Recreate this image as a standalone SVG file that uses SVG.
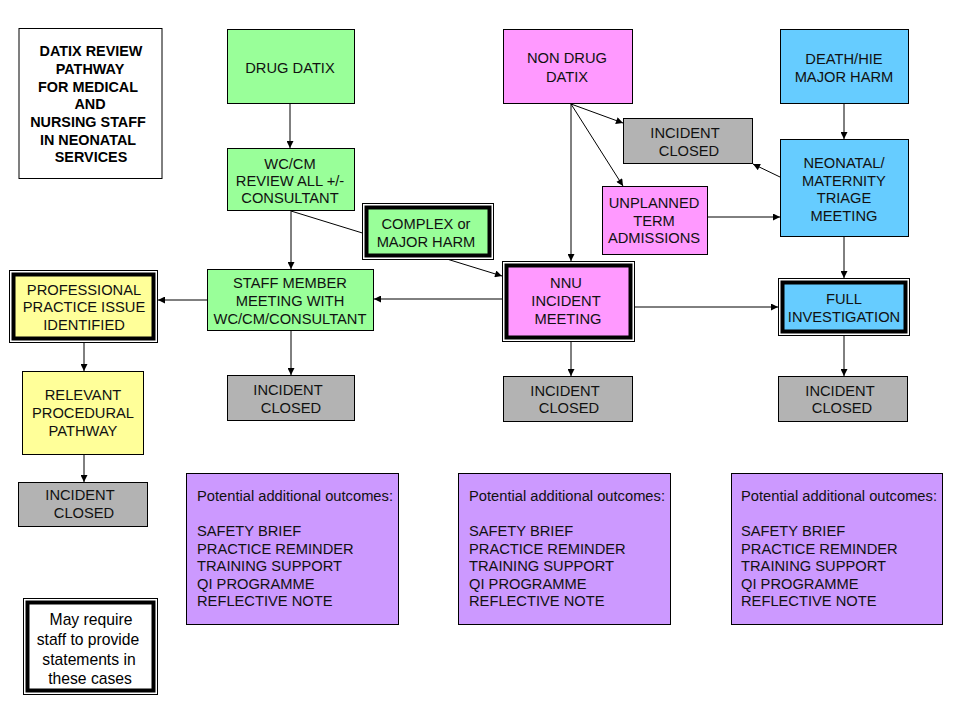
<svg xmlns="http://www.w3.org/2000/svg" width="960" height="720" viewBox="0 0 960 720">
<style>
.b{stroke:#000;stroke-width:1}
.thick{stroke:#000;stroke-width:4}
.g{fill:#99FF99}.p{fill:#FF99FF}.c{fill:#66CCFF}.y{fill:#FFFF99}.k{fill:#B3B3B3}.v{fill:#CC99FF}.w{fill:#fff}
text{font-family:"Liberation Sans",Arial,sans-serif;font-size:14.7px;fill:#111;text-anchor:middle}
.t{font-weight:bold;font-size:14.4px;fill:#000}
.l{text-anchor:start}
.m{font-size:15.7px;fill:#000}
.e{stroke:#000;stroke-width:1;fill:none;marker-end:url(#a)}
</style>
<defs>
<marker id="a" viewBox="0 0 10 10" refX="10" refY="5" markerWidth="8" markerHeight="7" markerUnits="userSpaceOnUse" orient="auto">
<path d="M0,0 L10,5 L0,10 z" fill="#000"/>
</marker>
</defs>
<rect width="960" height="720" fill="#fff"/>
<g id="connectors">
<line class="e" x1="290" y1="103" x2="290" y2="148"/>
<line class="e" x1="291" y1="211" x2="291" y2="269"/>
<line class="e" x1="291" y1="211" x2="502" y2="276"/>
<line class="e" x1="502" y1="299" x2="374" y2="299"/>
<line class="e" x1="207" y1="300" x2="158" y2="300"/>
<line class="e" x1="291" y1="330" x2="291" y2="375"/>
<line class="e" x1="84" y1="342" x2="84" y2="371"/>
<line class="e" x1="84" y1="454" x2="84" y2="482"/>
<line class="e" x1="571" y1="104" x2="571" y2="261"/>
<line class="e" x1="571" y1="104" x2="623" y2="123"/>
<line class="e" x1="571" y1="104" x2="623" y2="186"/>
<line class="e" x1="780" y1="177" x2="753" y2="164"/>
<line class="e" x1="707" y1="217" x2="780" y2="217"/>
<line class="e" x1="844" y1="104" x2="844" y2="139"/>
<line class="e" x1="844" y1="237" x2="844" y2="278"/>
<line class="e" x1="635" y1="307" x2="778" y2="307"/>
<line class="e" x1="571" y1="341" x2="571" y2="376"/>
<line class="e" x1="844" y1="336" x2="844" y2="376"/>
</g>
<g id="title">
<rect class="w b" x="19" y="28.5" width="143" height="150"/>
<text class="t" x="91" y="56">DATIX REVIEW</text>
<text class="t" x="90" y="74">PATHWAY</text>
<text class="t" x="88" y="91.5">FOR MEDICAL</text>
<text class="t" x="90" y="109">AND</text>
<text class="t" x="88" y="127">NURSING STAFF</text>
<text class="t" x="88" y="144.5">IN NEONATAL</text>
<text class="t" x="91" y="162">SERVICES</text>
</g>
<g id="drug-datix">
<rect class="g b" x="227.5" y="29.5" width="127" height="74"/>
<text x="290" y="73">DRUG DATIX</text>
</g>
<g id="wc-cm-review">
<rect class="g b" x="227.5" y="148.5" width="127" height="62"/>
<text x="290" y="169">WC/CM</text>
<text x="290" y="186">REVIEW ALL +/-</text>
<text x="290" y="203">CONSULTANT</text>
</g>
<g id="complex">
<rect class="w b" x="362.5" y="203.5" width="131" height="56"/>
<rect class="g thick" x="366.5" y="207.5" width="123" height="48"/>
<text x="426" y="229">COMPLEX or</text>
<text x="426" y="247">MAJOR HARM</text>
</g>
<g id="staff-meeting">
<rect class="g b" x="207.5" y="269.5" width="166" height="61"/>
<text x="290" y="288">STAFF MEMBER</text>
<text x="290" y="306">MEETING WITH</text>
<text x="290" y="324">WC/CM/CONSULTANT</text>
</g>
<g id="professional">
<rect class="w b" x="9.5" y="270.5" width="148" height="72"/>
<rect class="y thick" x="13.5" y="274.5" width="140" height="64"/>
<text x="84" y="295">PROFESSIONAL</text>
<text x="84" y="312">PRACTICE ISSUE</text>
<text x="84" y="330">IDENTIFIED</text>
</g>
<g id="relevant">
<rect class="y b" x="22.5" y="371.5" width="121" height="83"/>
<text x="83" y="400">RELEVANT</text>
<text x="83" y="418">PROCEDURAL</text>
<text x="83" y="436">PATHWAY</text>
</g>
<g id="closed-left">
<rect class="k b" x="18.5" y="482.5" width="129" height="44"/>
<text x="80" y="500">INCIDENT</text>
<text x="84" y="518">CLOSED</text>
</g>
<g id="closed-staff">
<rect class="k b" x="227.5" y="375.5" width="127" height="45"/>
<text x="288" y="395">INCIDENT</text>
<text x="291" y="413">CLOSED</text>
</g>
<g id="non-drug-datix">
<rect class="p b" x="503.5" y="29.5" width="129" height="74"/>
<text x="567" y="63">NON DRUG</text>
<text x="567" y="82">DATIX</text>
</g>
<g id="closed-top">
<rect class="k b" x="623.5" y="118.5" width="129" height="45"/>
<text x="685" y="138">INCIDENT</text>
<text x="689" y="156">CLOSED</text>
</g>
<g id="unplanned">
<rect class="p b" x="602.5" y="186.5" width="105" height="68"/>
<text x="654" y="208">UNPLANNED</text>
<text x="654" y="226">TERM</text>
<text x="654" y="243">ADMISSIONS</text>
</g>
<g id="nnu-meeting">
<rect class="w b" x="502.5" y="261.5" width="132" height="80"/>
<rect class="p thick" x="506.5" y="265.5" width="124" height="72"/>
<text x="566" y="288">NNU</text>
<text x="566" y="306">INCIDENT</text>
<text x="568" y="324">MEETING</text>
</g>
<g id="closed-nnu">
<rect class="k b" x="503.5" y="376.5" width="129" height="45"/>
<text x="565" y="396">INCIDENT</text>
<text x="569" y="413">CLOSED</text>
</g>
<g id="death-hie">
<rect class="c b" x="780.5" y="29.5" width="128" height="74"/>
<text x="844" y="64">DEATH/HIE</text>
<text x="844" y="82">MAJOR HARM</text>
</g>
<g id="triage">
<rect class="c b" x="780.5" y="139.5" width="128" height="97"/>
<text x="844" y="168">NEONATAL/</text>
<text x="844" y="185.5">MATERNITY</text>
<text x="844" y="203">TRIAGE</text>
<text x="844" y="220.5">MEETING</text>
</g>
<g id="full-investigation">
<rect class="w b" x="778.5" y="278.5" width="131" height="57"/>
<rect class="c thick" x="782.5" y="282.5" width="123" height="49"/>
<text x="844" y="304">FULL</text>
<text x="844" y="322">INVESTIGATION</text>
</g>
<g id="closed-right">
<rect class="k b" x="778.5" y="376.5" width="129" height="45"/>
<text x="840" y="396">INCIDENT</text>
<text x="842" y="413">CLOSED</text>
</g>
<g id="outcomes-1">
<rect class="v b" x="186.5" y="473.5" width="212" height="151"/>
<text class="l" x="197" y="501">Potential additional outcomes:</text>
<text class="l" x="197" y="536">SAFETY BRIEF</text>
<text class="l" x="197" y="553.5">PRACTICE REMINDER</text>
<text class="l" x="197" y="571">TRAINING SUPPORT</text>
<text class="l" x="197" y="588.5">QI PROGRAMME</text>
<text class="l" x="197" y="606">REFLECTIVE NOTE</text>
</g>
<g id="outcomes-2">
<rect class="v b" x="458.5" y="473.5" width="212" height="151"/>
<text class="l" x="469" y="501">Potential additional outcomes:</text>
<text class="l" x="469" y="536">SAFETY BRIEF</text>
<text class="l" x="469" y="553.5">PRACTICE REMINDER</text>
<text class="l" x="469" y="571">TRAINING SUPPORT</text>
<text class="l" x="469" y="588.5">QI PROGRAMME</text>
<text class="l" x="469" y="606">REFLECTIVE NOTE</text>
</g>
<g id="outcomes-3">
<rect class="v b" x="731.5" y="473.5" width="211" height="151"/>
<text class="l" x="741" y="501">Potential additional outcomes:</text>
<text class="l" x="741" y="536">SAFETY BRIEF</text>
<text class="l" x="741" y="553.5">PRACTICE REMINDER</text>
<text class="l" x="741" y="571">TRAINING SUPPORT</text>
<text class="l" x="741" y="588.5">QI PROGRAMME</text>
<text class="l" x="741" y="606">REFLECTIVE NOTE</text>
</g>
<g id="statements-note">
<rect class="w b" x="23.5" y="598.5" width="134" height="96"/>
<rect class="w thick" x="27.5" y="602.5" width="126" height="88"/>
<text class="m" x="91" y="625">May require</text>
<text class="m" x="88" y="645">staff to provide</text>
<text class="m" x="89" y="664.5">statements in</text>
<text class="m" x="90" y="684">these cases</text>
</g>
</svg>
